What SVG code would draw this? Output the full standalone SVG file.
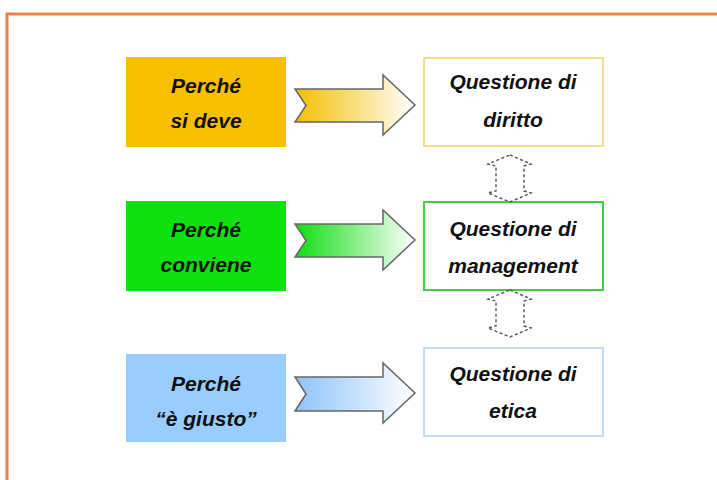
<svg xmlns="http://www.w3.org/2000/svg" width="717" height="480" viewBox="0 0 717 480">
<style>
.t{font-family:"Liberation Sans",Arial,sans-serif;font-weight:bold;font-style:italic;font-size:21px;fill:#111;text-anchor:middle}
.arr{stroke:#666;stroke-width:1.5;stroke-linejoin:miter}
.dbl{fill:none;stroke:#555;stroke-width:1.4;stroke-dasharray:3 2.5}
</style>
<defs>
<linearGradient id="gy" x1="0" x2="1" y1="0" y2="0"><stop offset="0" stop-color="#F4BF00"/><stop offset="1" stop-color="#FFFFFF"/></linearGradient>
<linearGradient id="gg" x1="0" x2="1" y1="0" y2="0"><stop offset="0" stop-color="#10DD10"/><stop offset="1" stop-color="#FFFFFF"/></linearGradient>
<linearGradient id="gb" x1="0" x2="1" y1="0" y2="0"><stop offset="0" stop-color="#8EC3FA"/><stop offset="1" stop-color="#FFFFFF"/></linearGradient>
</defs>
<rect width="717" height="480" fill="#fff"/>
<path d="M7,480 V14 H717" fill="none" stroke="#E8834A" stroke-width="3"/>

<g id="n-sideve">
<rect x="126" y="57" width="160" height="90" fill="#F8BE00"/>
<text class="t" x="206" y="93">Perché</text>
<text class="t" x="206" y="128">si deve</text>
</g>
<g id="n-conviene">
<rect x="126" y="201" width="160" height="90" fill="#0FE00F"/>
<text class="t" x="206" y="237">Perché</text>
<text class="t" x="206" y="272">conviene</text>
</g>
<g id="n-giusto">
<rect x="126" y="354" width="160" height="88" fill="#99CCFF"/>
<text class="t" x="206" y="391">Perché</text>
<text class="t" x="206" y="426">“è giusto”</text>
</g>

<g id="n-diritto">
<rect x="424" y="58" width="179" height="88" fill="#fff" stroke="#F0E08C" stroke-width="2"/>
<text class="t" x="513" y="89">Questione di</text>
<text class="t" x="513" y="127">diritto</text>
</g>
<g id="n-management">
<rect x="424" y="202" width="179" height="88" fill="#fff" stroke="#3FCF3F" stroke-width="2"/>
<text class="t" x="513" y="236">Questione di</text>
<text class="t" x="513" y="273">management</text>
</g>
<g id="n-etica">
<rect x="424" y="348" width="179" height="88" fill="#fff" stroke="#C8DCF2" stroke-width="2"/>
<text class="t" x="513" y="381">Questione di</text>
<text class="t" x="513" y="418">etica</text>
</g>

<g id="connectors">
<path class="arr" fill="url(#gy)" d="M295,89 H383 V75 L415,105 L383,135 V122 H295 L306,105.5 Z"/>
<path class="arr" fill="url(#gg)" d="M295,224 H383 V210 L415,240 L383,270 V257 H295 L306,240.5 Z"/>
<path class="arr" fill="url(#gb)" d="M295,377 H383 V363 L415,393 L383,423 V411 H295 L306,394 Z"/>
<path class="dbl" d="M510,155 L531,164 L524,166 V191 L531,193 L510,202 L488,193 L496,191 V166 L488,164 Z"/>
<path class="dbl" d="M510,290 L531,299 L524,301 V326 L531,328 L510,337 L488,328 L496,326 V301 L488,299 Z"/>
</g>
</svg>
